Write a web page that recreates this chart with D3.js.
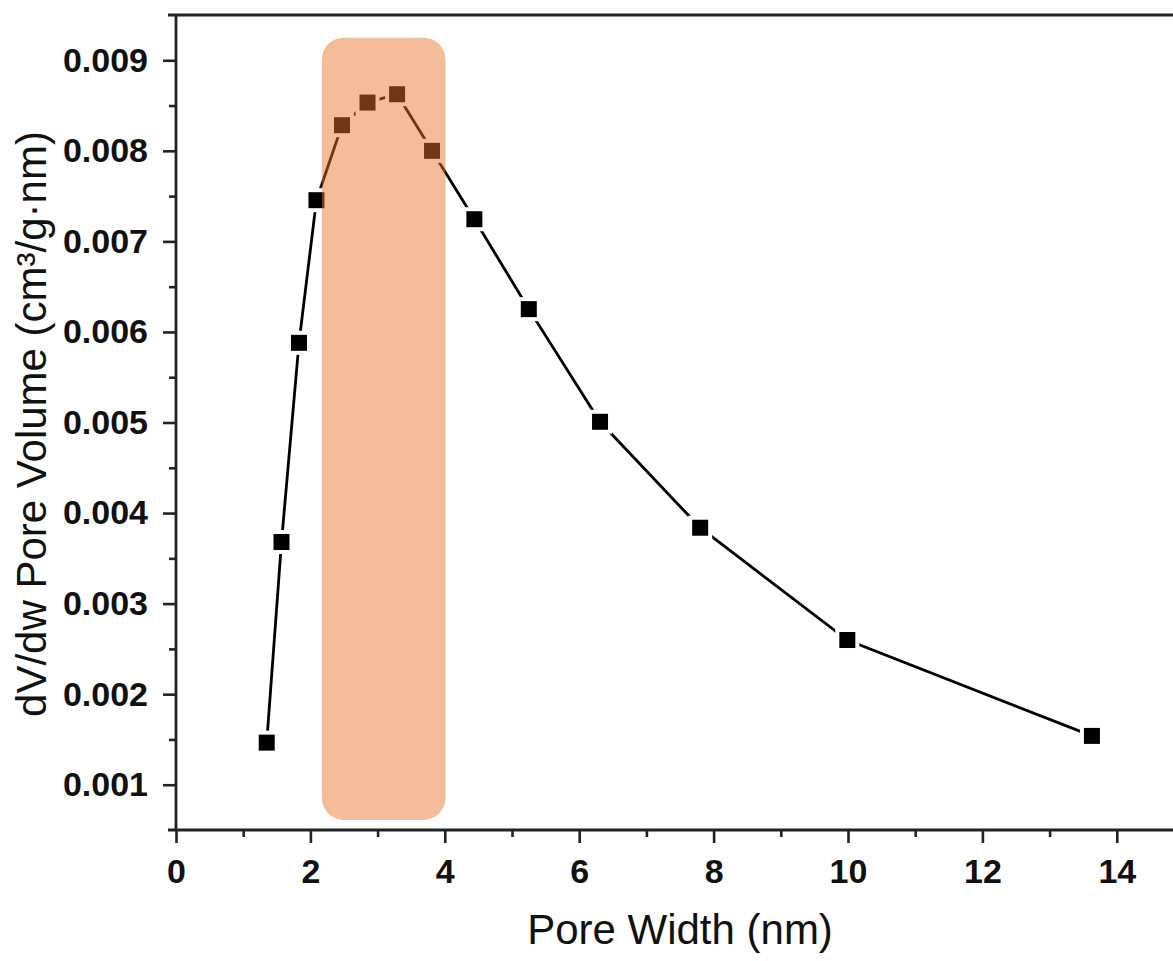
<!DOCTYPE html>
<html>
<head>
<meta charset="utf-8">
<script src="https://cdn.jsdelivr.net/npm/d3@7"></script>
<style>
  body { margin: 0; background: #fff; }
  text { font-family: "Liberation Sans", Arial, sans-serif; }
</style>
</head>
<body>
<div id="chart"></div>
<script>
// Pore size distribution values
const poreWidth = [1.35, 1.57, 1.83, 2.09, 2.47, 2.85, 3.29, 3.81, 4.44, 5.25, 6.31, 7.80, 9.99, 13.63];
const poreVolume = [0.001465, 0.00368, 0.00588, 0.007455, 0.008283, 0.008533, 0.008625, 0.0080, 0.007245, 0.006252, 0.005008, 0.003838, 0.002598, 0.001539];
const xTicks = [0, 2, 4, 6, 8, 10, 12, 14];
const xMinor = [1, 3, 5, 7, 9, 11, 13];
const yTicks = [0.001, 0.002, 0.003, 0.004, 0.005, 0.006, 0.007, 0.008, 0.009];
const yMinor = [0.0015, 0.0025, 0.0035, 0.0045, 0.0055, 0.0065, 0.0075, 0.0085];
// highlighted band (x from, x to, y from, y to)
const bandX = [2.17, 4.01];
const bandY = [0.000611, 0.00925];

const data = poreWidth.map((w, i) => ({ w: w, v: poreVolume[i] }));

const width = 1173, height = 961;
const margin = { left: 176, top: 15, bottom: 830 };
const unit = 67.2;

const svg = d3.select("#chart")
    .append("svg")
    .attr("width", width)
    .attr("height", height);

const xScale = d3.scaleLinear().domain([0, 15]).range([margin.left, margin.left + 15 * unit]);
const yScale = d3.scaleLinear().domain([0.0005, 0.0095]).range([margin.bottom, margin.top]);

// Axes
const xAxis = svg.append("g")
    .attr("transform", `translate(0,${margin.bottom})`)
    .call(d3.axisBottom(xScale).tickValues(xTicks).tickSize(13).tickPadding(16).tickFormat(d3.format("d")));
const xAxisMinor = svg.append("g")
    .attr("transform", `translate(0,${margin.bottom})`)
    .call(d3.axisBottom(xScale).tickValues(xMinor).tickSize(7).tickFormat(""));
const yAxis = svg.append("g")
    .attr("transform", `translate(${margin.left},0)`)
    .call(d3.axisLeft(yScale).tickValues(yTicks).tickSize(13).tickPadding(15).tickFormat(d3.format(".3f")));
const yAxisMinor = svg.append("g")
    .attr("transform", `translate(${margin.left},0)`)
    .call(d3.axisLeft(yScale).tickValues(yMinor).tickSize(7).tickFormat(""));

[xAxis, xAxisMinor, yAxis, yAxisMinor].forEach(g => {
    g.select(".domain").remove();
    g.selectAll(".tick line").attr("stroke", "#222").attr("stroke-width", 2.6);
    g.selectAll(".tick text")
        .attr("fill", "#111")
        .style("font-size", "34px")
        .style("font-weight", "bold");
});

// Frame lines
const frame = svg.append("g").attr("stroke", "#222").attr("stroke-width", 2.8).attr("fill", "none");
frame.append("line").attr("x1", margin.left - 8).attr("x2", width).attr("y1", margin.bottom).attr("y2", margin.bottom);
frame.append("line").attr("x1", margin.left - 8).attr("x2", width).attr("y1", margin.top).attr("y2", margin.top);
frame.append("line").attr("x1", margin.left).attr("x2", margin.left).attr("y1", margin.top).attr("y2", margin.bottom + 1);

// Line and markers
const line = d3.line()
    .x(d => xScale(d.w))
    .y(d => yScale(d.v));

svg.append("path")
    .datum(data)
    .attr("fill", "none")
    .attr("stroke", "#000")
    .attr("stroke-width", 2.8)
    .attr("d", line);

svg.selectAll("rect.marker")
    .data(data)
    .enter()
    .append("rect")
    .attr("class", "marker")
    .attr("x", d => xScale(d.w) - 10)
    .attr("y", d => yScale(d.v) - 10)
    .attr("width", 20)
    .attr("height", 20)
    .attr("fill", "#000")
    .attr("stroke", "#fff")
    .attr("stroke-width", 4);

// Translucent highlight band on top
svg.append("rect")
    .attr("x", xScale(bandX[0]))
    .attr("y", yScale(bandY[1]))
    .attr("width", xScale(bandX[1]) - xScale(bandX[0]))
    .attr("height", yScale(bandY[0]) - yScale(bandY[1]))
    .attr("rx", 22)
    .attr("fill", "rgb(232,116,40)")
    .attr("fill-opacity", 0.48);

// Axis titles
svg.append("text")
    .attr("x", (xScale(0) + xScale(15)) / 2)
    .attr("y", 944)
    .attr("text-anchor", "middle")
    .attr("fill", "#111")
    .style("font-size", "42px")
    .text("Pore Width (nm)");

svg.append("text")
    .attr("transform", "rotate(-90)")
    .attr("x", -424)
    .attr("y", 46)
    .attr("text-anchor", "middle")
    .attr("fill", "#111")
    .style("font-size", "42px")
    .text("dV/dw Pore Volume (cm³/g·nm)");
</script>
</body>
</html>
